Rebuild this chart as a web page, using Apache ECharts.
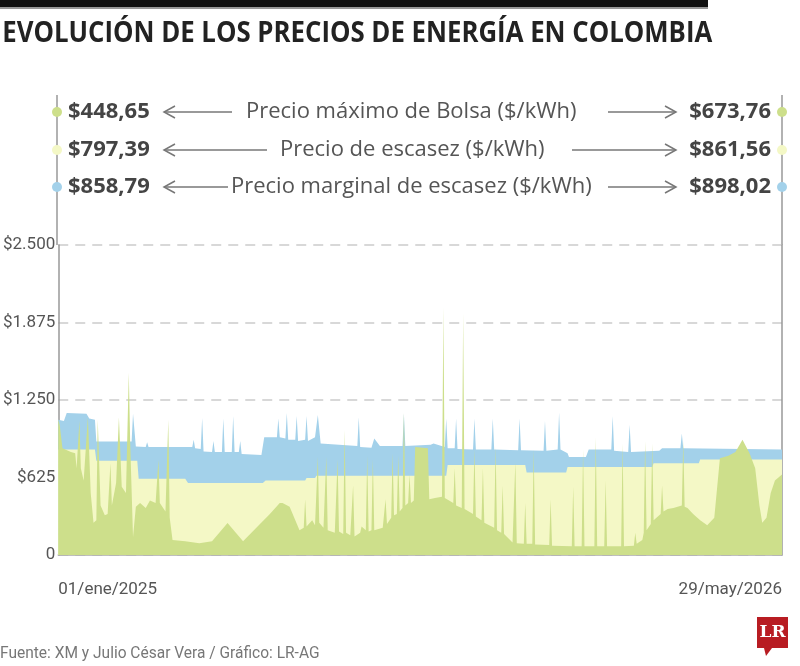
<!DOCTYPE html>
<html>
<head>
<meta charset="utf-8">
<script src="https://cdn.jsdelivr.net/npm/echarts@6/dist/echarts.min.js"></script>
<style>
  html, body { margin: 0; padding: 0; background: #fff; }
  #chart { width: 800px; height: 666px; }
</style>
</head>
<body>
<div id="chart"></div>
<script>
// Data: [day since 01/ene/2025, $/kWh]
const xLabels = ['01/ene/2025', '29/may/2026'];
const lastDay = 513;
const yTicks = [0, 625, 1250, 1875, 2500];

const marginal = [
    [0, 1090], [4, 1080], [6, 1145], [20, 1140], [22, 1100], [26, 1090], [27, 915], [52, 915],
    [53, 1140], [54, 1130], [55, 875], [62, 870], [63, 910], [64, 870], [95, 870], [96, 930],
    [97, 860], [101, 855], [102, 1105], [103, 835], [109, 830], [110, 920], [111, 830], [116, 830],
    [117, 1100], [118, 830], [123, 830], [124, 1120], [125, 830], [128, 830], [129, 920], [130, 815],
    [144, 806], [146, 950], [155, 950], [156, 1100], [157, 950], [161, 940], [162, 1145], [163, 930],
    [168, 930], [169, 1120], [170, 920], [175, 930], [176, 1120], [177, 920], [182, 950], [184, 1130],
    [186, 900], [212, 880], [213, 1110], [214, 870], [222, 865], [224, 940], [228, 880], [244, 880],
    [245, 1140], [246, 880], [264, 890], [266, 900], [274, 870], [275, 1100], [276, 860], [281, 860],
    [282, 1100], [283, 855], [294, 850], [295, 1100], [296, 850], [307, 850], [308, 1100], [309, 850],
    [326, 845], [327, 1100], [328, 845], [344, 840], [345, 1080], [346, 840], [354, 850], [355, 1150],
    [356, 850], [361, 820], [362, 790], [374, 790], [376, 850], [392, 850], [393, 1120], [394, 840],
    [404, 830], [405, 1050], [406, 830], [426, 840], [428, 860], [441, 860], [442, 980], [443, 860],
    [513, 850]
];

const escasez = [
    [0, 850], [26, 850], [27, 760], [56, 760], [57, 615], [90, 615], [92, 580], [145, 580],
    [147, 600], [175, 600], [176, 620], [182, 620], [183, 640], [275, 640], [276, 725], [331, 725],
    [332, 665], [360, 665], [361, 710], [421, 710], [422, 740], [454, 740], [455, 770], [513, 770]
];

const bolsa = [
    [0, 1090], [1, 1050], [3, 860], [9, 830], [12, 820], [13, 700], [15, 1080], [16, 700],
    [18, 600], [21, 1110], [23, 500], [25, 260], [27, 280], [28, 1090], [30, 400], [33, 320],
    [35, 330], [37, 740], [38, 400], [41, 580], [43, 1110], [45, 550], [48, 500], [50, 1470],
    [51, 900], [53, 145], [55, 390], [58, 420], [62, 380], [65, 440], [69, 420], [71, 766],
    [72, 420], [76, 350], [78, 1090], [79, 300], [81, 120], [90, 110], [100, 95], [109, 110],
    [120, 258], [131, 110], [143, 250], [150, 330], [157, 420], [159, 420], [164, 390], [171, 200],
    [174, 220], [175, 450], [176, 230], [180, 280], [182, 240], [184, 790], [185, 260], [188, 220],
    [190, 790], [191, 200], [196, 180], [198, 770], [199, 190], [202, 170], [203, 1010], [204, 180],
    [207, 160], [209, 560], [210, 150], [214, 180], [215, 230], [218, 200], [219, 800], [220, 190],
    [222, 200], [223, 770], [224, 200], [230, 220], [232, 450], [233, 250], [236, 300], [237, 820],
    [238, 320], [240, 330], [241, 800], [242, 350], [244, 380], [245, 1150], [246, 400], [248, 420],
    [249, 650], [250, 420], [252, 440], [253, 870], [262, 860], [263, 450], [267, 460], [272, 470],
    [273, 2000], [274, 460], [280, 420], [281, 700], [282, 400], [286, 380], [287, 1950], [288, 370],
    [294, 330], [295, 850], [296, 310], [300, 280], [301, 700], [302, 260], [309, 220], [310, 870],
    [311, 200], [314, 180], [315, 560], [316, 170], [322, 100], [324, 750], [325, 95], [330, 90],
    [331, 420], [332, 90], [336, 90], [337, 850], [338, 85], [348, 80], [349, 450], [350, 75],
    [364, 70], [365, 550], [366, 70], [371, 70], [372, 850], [373, 70], [380, 70], [381, 950],
    [382, 70], [387, 70], [388, 600], [389, 70], [399, 70], [400, 900], [401, 70], [408, 75],
    [409, 180], [410, 90], [414, 120], [415, 180], [416, 920], [417, 200], [420, 250], [421, 900],
    [422, 280], [427, 330], [428, 560], [429, 350], [432, 370], [436, 380], [442, 400], [443, 920],
    [444, 390], [446, 380], [450, 330], [455, 280], [460, 240], [465, 300], [469, 780], [475, 800],
    [480, 830], [485, 930], [490, 820], [494, 700], [497, 400], [499, 260], [502, 300], [505, 500],
    [508, 600], [513, 650]
];

// Header rows
const rowLabels = ['Precio máximo de Bolsa ($/kWh)', 'Precio de escasez ($/kWh)', 'Precio marginal de escasez ($/kWh)'];
const startValues = ['$448,65', '$797,39', '$858,79'];
const endValues = ['$673,76', '$861,56', '$898,02'];
const rowColors = ['#cddf8b', '#f4f8c6', '#a3d1ea'];

const titleText = 'EVOLUCIÓN DE LOS PRECIOS DE ENERGÍA EN COLOMBIA';
const plain = "'Open Sans', 'Noto Sans', sans-serif";
const narrowFont = "'Roboto', sans-serif";

const rowY = [112, 150, 187];
const leftArrowEnd = [232, 267, 228];
const labelLeft = [246, 280, 231];
const rightArrowStart = [608, 572, 608];

// squeeze the title to the width of the black bar (condensed look)
const titleFont = 'bold 29px ' + plain;
const measure = document.createElement('canvas').getContext('2d');
measure.font = titleFont;
const titleScale = 710 / measure.measureText(titleText).width;

function fmtMoney(v) {
    if (v === 0) return '0';
    return '$' + String(v).replace(/\B(?=(\d{3})+(?!\d))/g, '.');
}

const graphics = [
    {type: 'rect', shape: {x: 0, y: 0, width: 708, height: 7}, style: {fill: '#111'}},
    {type: 'rect', shape: {x: 0, y: 7, width: 708, height: 2}, style: {fill: '#999'}},
    {type: 'text', x: 2, y: 34, scaleX: titleScale, originX: 2, style: {text: titleText,
        font: titleFont, fill: '#222', verticalAlign: 'middle'}},
    {type: 'line', shape: {x1: 57, y1: 95, x2: 57, y2: 245}, style: {stroke: '#999', lineWidth: 1.5}},
    {type: 'line', shape: {x1: 782, y1: 95, x2: 782, y2: 245}, style: {stroke: '#999', lineWidth: 1.5}},
    {type: 'text', x: 0, y: 654, scaleX: 0.97, style: {text: 'Fuente: XM y Julio César Vera / Gráfico: LR-AG',
        font: '16px ' + narrowFont, fill: '#777', verticalAlign: 'middle'}},
    {type: 'rect', shape: {x: 757, y: 617, width: 31, height: 31}, style: {fill: '#b81c22'}},
    {type: 'polygon', shape: {points: [[764, 648], [772, 648], [766, 656]]}, style: {fill: '#b81c22'}},
    {type: 'text', x: 772.5, y: 633, style: {text: 'LR', font: 'bold 17px "DejaVu Serif", serif',
        fill: '#fff', align: 'center', verticalAlign: 'middle'}}
];

rowLabels.forEach((label, i) => {
    const y = rowY[i];
    graphics.push(
        {type: 'circle', shape: {cx: 57, cy: y, r: 5}, style: {fill: rowColors[i]}, z: 10},
        {type: 'circle', shape: {cx: 782, cy: y, r: 5}, style: {fill: rowColors[i]}, z: 10},
        {type: 'text', x: 68, y: y, style: {text: startValues[i], font: 'bold 22px ' + plain,
            fill: '#444', verticalAlign: 'middle'}},
        {type: 'text', x: 771, y: y, style: {text: endValues[i], font: 'bold 22px ' + plain,
            fill: '#444', align: 'right', verticalAlign: 'middle'}},
        {type: 'text', x: labelLeft[i], y: y, style: {text: label, font: '22px ' + plain,
            fill: '#555', verticalAlign: 'middle'}},
        {type: 'line', shape: {x1: 164, y1: y, x2: leftArrowEnd[i], y2: y}, style: {stroke: '#777', lineWidth: 1.5}},
        {type: 'polyline', shape: {points: [[175, y - 6], [164, y], [175, y + 6]]}, style: {stroke: '#777', lineWidth: 1.5, fill: null}},
        {type: 'line', shape: {x1: rightArrowStart[i], y1: y, x2: 676, y2: y}, style: {stroke: '#777', lineWidth: 1.5}},
        {type: 'polyline', shape: {points: [[665, y - 6], [676, y], [665, y + 6]]}, style: {stroke: '#777', lineWidth: 1.5, fill: null}}
    );
});

function areaSeries(name, data, color, z) {
    return {
        name, type: 'line', data, z,
        showSymbol: false, symbol: 'none',
        lineStyle: {width: 0},
        areaStyle: {color, opacity: 1},
        itemStyle: {color},
        silent: true
    };
}

const chart = echarts.init(document.getElementById('chart'));
chart.setOption({
    animation: false,
    backgroundColor: '#fff',
    grid: {left: 57, right: 18, top: 245, bottom: 111, containLabel: false},
    xAxis: {
        type: 'value', min: 0, max: lastDay, interval: lastDay,
        axisLine: {show: true, lineStyle: {color: '#aaa', width: 1.5}},
        axisTick: {show: false},
        splitLine: {show: false},
        axisLabel: {
            margin: 26, color: '#555', fontSize: 17, fontFamily: narrowFont,
            alignMinLabel: 'left', alignMaxLabel: 'right',
            formatter: v => v === 0 ? xLabels[0] : xLabels[1]
        }
    },
    yAxis: [{
        type: 'value', min: yTicks[0], max: yTicks[yTicks.length - 1], interval: yTicks[1] - yTicks[0],
        axisLine: {show: true, lineStyle: {color: '#999', width: 1.5}},
        axisTick: {show: false},
        splitLine: {show: true, lineStyle: {color: '#ccc', type: [10, 7], width: 1.5}},
        axisLabel: {margin: 3, color: '#555', fontSize: 17, fontFamily: narrowFont, formatter: fmtMoney}
    }, {
        type: 'value', position: 'right', min: 0, max: 2500,
        axisLine: {show: true, lineStyle: {color: '#999', width: 1.5}},
        axisTick: {show: false}, axisLabel: {show: false}, splitLine: {show: false}
    }],
    series: [
        areaSeries('Precio marginal de escasez', marginal, rowColors[2], 1),
        areaSeries('Precio de escasez', escasez, rowColors[1], 2),
        areaSeries('Precio máximo de Bolsa', bolsa, rowColors[0], 3)
    ],
    graphic: graphics
});
</script>
</body>
</html>
